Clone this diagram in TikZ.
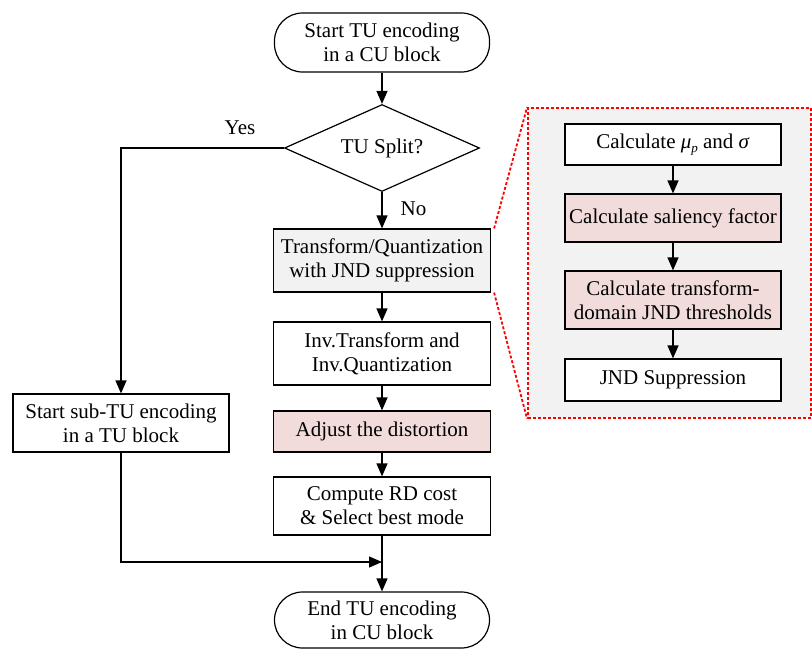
\documentclass[tikz,border=0pt]{standalone}
\usepackage{fontspec}
\setmainfont{Liberation Serif}
\usetikzlibrary{shapes.geometric,arrows.meta}
\definecolor{boxgray}{HTML}{F2F2F2}
\definecolor{boxpink}{HTML}{F2DCDB}
\definecolor{dashred}{HTML}{FF0000}
\begin{document}
\begin{tikzpicture}[x=1pt,y=-1pt,
  every node/.style={font=\fontsize{21}{24}\selectfont},
  box/.style={draw, line width=1.2pt, minimum width=217, align=center, inner sep=0},
  term/.style={box, minimum width=215, rounded corners=28},
  decision/.style={draw, line width=1.2pt, diamond, minimum width=195, minimum height=87, inner sep=0, aspect=2.24},
  panel/.style={draw=dashred, fill=boxgray, line width=1.8pt, dash pattern=on 3pt off 2pt, minimum width=283, minimum height=310, inner sep=0},
  guide/.style={draw=dashred, line width=1.8pt, dash pattern=on 3pt off 2pt},
  arr/.style={line width=1.2pt, -{Triangle[length=13pt,width=11pt]}},
  lbl/.style={inner sep=0}
]
\useasboundingbox (0,0) rectangle (812,649);

% right panel
\node[panel] (panel) at (669.5,263) {};
\node[box, fill=white, minimum width=216, minimum height=41] (mu) at (673,144.5) {Calculate \textit{μ}\raisebox{-0.45ex}{\fontsize{13}{13}\selectfont\textit{p}} and \textit{σ}};
\node[box, fill=boxpink, minimum width=216, minimum height=48] (sal) at (673,218) {Calculate saliency factor};
\node[box, fill=boxpink, minimum width=216, minimum height=58] (thr) at (673,300) {Calculate transform-\\domain JND thresholds};
\node[box, fill=white, minimum width=216, minimum height=42] (jnd) at (673,380) {JND Suppression};
\draw[arr] (mu) -- (sal);
\draw[arr] (sal) -- (thr);
\draw[arr] (thr) -- (jnd);

% main column
\node[term, minimum height=59] (start) at (382,42.5) {Start TU encoding\\in a CU block};
\node[decision] (split) at (382,148) {TU Split?};
\node[box, fill=boxgray, minimum height=63] (trq) at (382,260.5) {Transform/Quantization\\with JND suppression};
\node[box, minimum height=63] (inv) at (382,353.5) {Inv.Transform and\\Inv.Quantization};
\node[box, fill=boxpink, minimum height=41] (adj) at (382,431.5) {Adjust the distortion};
\node[box, minimum height=58] (rd) at (382,506) {Compute RD cost\\\& Select best mode};
\node[term, minimum height=56] (end) at (382,620) {End TU encoding\\in CU block};
\node[box, minimum width=216, minimum height=58] (sub) at (121,423) {Start sub-TU encoding\\in a TU block};

\coordinate (yc) at (121,148);
\coordinate (jn) at (382,562);

\draw[guide] ([xshift=3pt]trq.north east) -- (panel.north west);
\draw[guide] ([xshift=3pt]trq.south east) -- (panel.south west);

\draw[arr] (start) -- (split);
\draw[arr] (split) -- (trq) node[lbl, pos=0.45, right=18pt] (no) {No};
\draw[arr] (trq) -- (inv);
\draw[arr] (inv) -- (adj);
\draw[arr] (adj) -- (rd);
\draw[arr] (rd) -- (end);
\draw[arr] (split.west) -- (yc) -- (sub);
\node[lbl] (yes) at (240,128) {Yes};
\draw[arr] (sub.south) |- (jn);
\end{tikzpicture}
\end{document}
